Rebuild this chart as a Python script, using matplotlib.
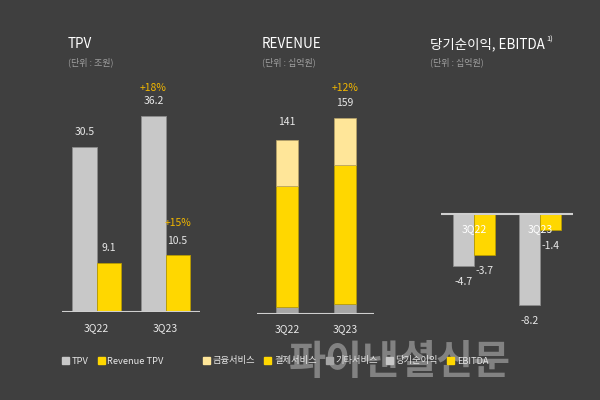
import matplotlib
matplotlib.use("Agg")
import matplotlib.pyplot as plt
from matplotlib.patches import Patch

plt.rcParams["font.family"] = ["Noto Sans CJK KR", "DejaVu Sans"]

# data
quarters = ["3Q22", "3Q23"]
tpv = [30.5, 36.2]
revenue_tpv = [9.1, 10.5]
tpv_growth = ["+18%", "+15%"]

fin_service = [37, 38]
pay_service = [98, 113]
etc_service = [6, 8]
revenue_total = [141, 159]
revenue_growth = "+12%"

net_income = [-4.7, -8.2]
ebitda = [-3.7, -1.4]

BG = "#3f3f3f"
GRAY = "#c8c8c8"
YELLOW = "#ffd700"
LIGHT_YELLOW = "#ffe699"
DARK_GRAY = "#a6a6a6"
TXT = "#e8e8e8"
SUB = "#a0a0a0"
PCT = "#f2b700"
W, H = 600, 400


def add_axes_px(fig, x0, y0, x1, y1):
    ax = fig.add_axes([x0 / W, 1 - y1 / H, (x1 - x0) / W, (y1 - y0) / H])
    ax.set_facecolor(BG)
    for s in ax.spines.values():
        s.set_visible(False)
    ax.set_yticks([])
    return ax


fig = plt.figure(figsize=(6, 4), dpi=100, facecolor=BG)
x = range(len(quarters))

# ---- TPV ----
ax1 = add_axes_px(fig, 62, 80, 200, 312)
ax1.set_xlim(-0.5, 1.5)
ax1.set_ylim(0, 232 / 5.41)
bw = 0.348
ax1.bar([i - bw / 2 for i in x], tpv, bw, color=GRAY, edgecolor="#8c8c8c", lw=0.6)
ax1.bar([i + bw / 2 for i in x], revenue_tpv, bw, color=YELLOW, edgecolor="#b89b00", lw=0.6)
ax1.axhline(0, color="#cfcfcf", lw=1.5)
for i in x:
    ax1.annotate(f"{tpv[i]}", (i - bw / 2, tpv[i]), xytext=(0, 11), textcoords="offset points",
                 ha="center", va="center", color=TXT, fontsize=7.5)
    ax1.annotate(f"{revenue_tpv[i]}", (i + bw / 2, revenue_tpv[i]), xytext=(0, 10.5),
                 textcoords="offset points", ha="center", va="center", color=TXT, fontsize=7.5)
ax1.annotate(tpv_growth[0], (1 - bw / 2, tpv[1]), xytext=(0, 20), textcoords="offset points",
             ha="center", va="center", color=PCT, fontsize=7.5)
ax1.annotate(tpv_growth[1], (1 + bw / 2, revenue_tpv[1]), xytext=(0, 23.5), textcoords="offset points",
             ha="center", va="center", color=PCT, fontsize=7.5)
ax1.set_xticks(list(x), quarters)
ax1.tick_params(axis="x", length=0, pad=8, colors=TXT, labelsize=7.5)

# ---- REVENUE ----
ax2 = add_axes_px(fig, 257, 80, 374, 314)
ax2.set_xlim(-0.52, 1.5)
ax2.set_ylim(0, 234 / 1.233)
bw2 = 0.38
ax2.bar(x, etc_service, bw2, color=DARK_GRAY, edgecolor="#8c8c8c", lw=0.5)
ax2.bar(x, pay_service, bw2, bottom=etc_service, color=YELLOW, edgecolor="#b89b00", lw=0.5)
bottom2 = [a + b for a, b in zip(etc_service, pay_service)]
ax2.bar(x, fin_service, bw2, bottom=bottom2, color=LIGHT_YELLOW, edgecolor="#b8a46a", lw=0.5)
ax2.axhline(0, color="#cfcfcf", lw=1.5)
ax2.annotate(f"{revenue_total[0]}", (0, revenue_total[0]), xytext=(0, 13), textcoords="offset points",
             ha="center", va="center", color=TXT, fontsize=7.5)
ax2.annotate(f"{revenue_total[1]}", (1, revenue_total[1]), xytext=(0, 11), textcoords="offset points",
             ha="center", va="center", color=TXT, fontsize=7.5)
ax2.annotate(revenue_growth, (1, revenue_total[1]), xytext=(0, 21.5), textcoords="offset points",
             ha="center", va="center", color=PCT, fontsize=7.5)
ax2.set_xticks(list(x), quarters)
ax2.tick_params(axis="x", length=0, pad=7, colors=TXT, labelsize=7.5)

# ---- 당기순이익, EBITDA ----
ax3 = add_axes_px(fig, 441, 200, 573, 330)
ax3.set_xlim(-0.5, 1.5)
ax3.set_ylim(-116 / 11.1, 14 / 11.1)
ax3.set_xticks([])
bw3 = 0.32
ax3.bar([i - bw3 / 2 for i in x], net_income, bw3, color=GRAY, edgecolor="#8c8c8c", lw=0.6)
ax3.bar([i + bw3 / 2 for i in x], ebitda, bw3, color=YELLOW, edgecolor="#b89b00", lw=0.6)
ax3.axhline(0, color="#cfcfcf", lw=1.5)
for i in x:
    ax3.annotate(f"{net_income[i]}", (i - bw3 / 2, net_income[i]), xytext=(0, -11.5),
                 textcoords="offset points", ha="center", va="center", color=TXT, fontsize=7.5)
    ax3.annotate(f"{ebitda[i]}", (i + bw3 / 2, ebitda[i]), xytext=(0, -11.5),
                 textcoords="offset points", ha="center", va="center", color=TXT, fontsize=7.5)
    ax3.annotate(quarters[i], (i, 0), xytext=(0, -11), textcoords="offset points",
                 ha="center", va="center", color="white", fontsize=7.5)

# titles
titles = [(68, "TPV", "(단위 : 조원)"), (262, "REVENUE", "(단위 : 십억원)"),
          (430, "당기순이익, EBITDA", "(단위 : 십억원)")]
for px, t, s in titles:
    ttl = fig.text(px / W, 1 - 44 / H, t, color="white", fontsize=9.7, va="center", ha="left")
    fig.text(px / W, 1 - 62 / H, s, color=SUB, fontsize=6.5, va="center", ha="left")
# footnote mark after the last title
fig.add_artist(plt.Annotation("1)", xy=(1, 0.8), xycoords=ttl, xytext=(1, 0),
                              textcoords="offset points", color="white", fontsize=5.5,
                              va="center", ha="left"))

# legends
leg_kw = dict(frameon=False, handlelength=0.75, handleheight=0.75, handletextpad=0.3,
              columnspacing=1.0, fontsize=6.7, labelcolor=TXT, borderpad=0, loc="center left")
fig.legend([Patch(color=GRAY), Patch(color=YELLOW)], ["TPV", "Revenue TPV"],
           ncol=2, bbox_to_anchor=(57 / W, 1 - 361 / H), **leg_kw)
fig.legend([Patch(color=LIGHT_YELLOW), Patch(color=YELLOW), Patch(color=DARK_GRAY)],
           ["금융서비스", "결제서비스", "기타서비스"],
           ncol=3, bbox_to_anchor=(198 / W, 1 - 361 / H), **leg_kw)
fig.legend([Patch(color=GRAY), Patch(color=YELLOW)], ["당기순이익", "EBITDA"],
           ncol=2, bbox_to_anchor=(381 / W, 1 - 361 / H), **leg_kw)

# watermark
fig.text(400 / W, 1 - 362 / H, "파이낸셜신문", color="#9a9a9a", alpha=0.75, fontsize=29,
         fontweight="bold", ha="center", va="center")

fig.savefig("out.png", dpi=100, facecolor=BG)
